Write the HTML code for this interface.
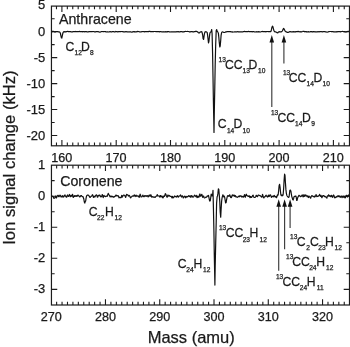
<!DOCTYPE html>
<html><head><meta charset="utf-8"><title>Ion signal change</title>
<style>html,body{margin:0;padding:0;background:#fff}body{width:350px;height:347px;overflow:hidden}</style>
</head><body>
<svg width="350" height="347" viewBox="0 0 350 347" style="display:block">
<rect width="350" height="347" fill="#fff"/>
<g stroke="#1c1c1c" stroke-width="1.2" fill="none" stroke-linecap="butt">
<rect x="51.45" y="6.1" width="298.05" height="139.70000000000002"/>
<rect x="51.45" y="165.2" width="298.05" height="139.8"/>
</g>
<path d="M56.47,6.1 v3.2 M56.47,145.8 v-3.2 M61.90,6.1 v5.8 M61.90,145.8 v-5.8 M67.33,6.1 v3.2 M67.33,145.8 v-3.2 M72.76,6.1 v3.2 M72.76,145.8 v-3.2 M78.19,6.1 v3.2 M78.19,145.8 v-3.2 M83.62,6.1 v3.2 M83.62,145.8 v-3.2 M89.05,6.1 v3.2 M89.05,145.8 v-3.2 M94.48,6.1 v3.2 M94.48,145.8 v-3.2 M99.91,6.1 v3.2 M99.91,145.8 v-3.2 M105.34,6.1 v3.2 M105.34,145.8 v-3.2 M110.77,6.1 v3.2 M110.77,145.8 v-3.2 M116.20,6.1 v5.8 M116.20,145.8 v-5.8 M121.63,6.1 v3.2 M121.63,145.8 v-3.2 M127.06,6.1 v3.2 M127.06,145.8 v-3.2 M132.49,6.1 v3.2 M132.49,145.8 v-3.2 M137.92,6.1 v3.2 M137.92,145.8 v-3.2 M143.35,6.1 v3.2 M143.35,145.8 v-3.2 M148.78,6.1 v3.2 M148.78,145.8 v-3.2 M154.21,6.1 v3.2 M154.21,145.8 v-3.2 M159.64,6.1 v3.2 M159.64,145.8 v-3.2 M165.07,6.1 v3.2 M165.07,145.8 v-3.2 M170.50,6.1 v5.8 M170.50,145.8 v-5.8 M175.93,6.1 v3.2 M175.93,145.8 v-3.2 M181.36,6.1 v3.2 M181.36,145.8 v-3.2 M186.79,6.1 v3.2 M186.79,145.8 v-3.2 M192.22,6.1 v3.2 M192.22,145.8 v-3.2 M197.65,6.1 v3.2 M197.65,145.8 v-3.2 M203.08,6.1 v3.2 M203.08,145.8 v-3.2 M208.51,6.1 v3.2 M208.51,145.8 v-3.2 M213.94,6.1 v3.2 M213.94,145.8 v-3.2 M219.37,6.1 v3.2 M219.37,145.8 v-3.2 M224.80,6.1 v5.8 M224.80,145.8 v-5.8 M230.23,6.1 v3.2 M230.23,145.8 v-3.2 M235.66,6.1 v3.2 M235.66,145.8 v-3.2 M241.09,6.1 v3.2 M241.09,145.8 v-3.2 M246.52,6.1 v3.2 M246.52,145.8 v-3.2 M251.95,6.1 v3.2 M251.95,145.8 v-3.2 M257.38,6.1 v3.2 M257.38,145.8 v-3.2 M262.81,6.1 v3.2 M262.81,145.8 v-3.2 M268.24,6.1 v3.2 M268.24,145.8 v-3.2 M273.67,6.1 v3.2 M273.67,145.8 v-3.2 M279.10,6.1 v5.8 M279.10,145.8 v-5.8 M284.53,6.1 v3.2 M284.53,145.8 v-3.2 M289.96,6.1 v3.2 M289.96,145.8 v-3.2 M295.39,6.1 v3.2 M295.39,145.8 v-3.2 M300.82,6.1 v3.2 M300.82,145.8 v-3.2 M306.25,6.1 v3.2 M306.25,145.8 v-3.2 M311.68,6.1 v3.2 M311.68,145.8 v-3.2 M317.11,6.1 v3.2 M317.11,145.8 v-3.2 M322.54,6.1 v3.2 M322.54,145.8 v-3.2 M327.97,6.1 v3.2 M327.97,145.8 v-3.2 M333.40,6.1 v5.8 M333.40,145.8 v-5.8 M338.83,6.1 v3.2 M338.83,145.8 v-3.2 M344.26,6.1 v3.2 M344.26,145.8 v-3.2 M56.63,165.2 v3.2 M56.63,305.0 v-3.2 M62.05,165.2 v3.2 M62.05,305.0 v-3.2 M67.48,165.2 v3.2 M67.48,305.0 v-3.2 M72.91,165.2 v3.2 M72.91,305.0 v-3.2 M78.34,165.2 v3.2 M78.34,305.0 v-3.2 M83.76,165.2 v3.2 M83.76,305.0 v-3.2 M89.19,165.2 v3.2 M89.19,305.0 v-3.2 M94.62,165.2 v3.2 M94.62,305.0 v-3.2 M100.04,165.2 v3.2 M100.04,305.0 v-3.2 M105.47,165.2 v5.8 M105.47,305.0 v-5.8 M110.90,165.2 v3.2 M110.90,305.0 v-3.2 M116.32,165.2 v3.2 M116.32,305.0 v-3.2 M121.75,165.2 v3.2 M121.75,305.0 v-3.2 M127.18,165.2 v3.2 M127.18,305.0 v-3.2 M132.61,165.2 v3.2 M132.61,305.0 v-3.2 M138.03,165.2 v3.2 M138.03,305.0 v-3.2 M143.46,165.2 v3.2 M143.46,305.0 v-3.2 M148.89,165.2 v3.2 M148.89,305.0 v-3.2 M154.31,165.2 v3.2 M154.31,305.0 v-3.2 M159.74,165.2 v5.8 M159.74,305.0 v-5.8 M165.17,165.2 v3.2 M165.17,305.0 v-3.2 M170.59,165.2 v3.2 M170.59,305.0 v-3.2 M176.02,165.2 v3.2 M176.02,305.0 v-3.2 M181.45,165.2 v3.2 M181.45,305.0 v-3.2 M186.88,165.2 v3.2 M186.88,305.0 v-3.2 M192.30,165.2 v3.2 M192.30,305.0 v-3.2 M197.73,165.2 v3.2 M197.73,305.0 v-3.2 M203.16,165.2 v3.2 M203.16,305.0 v-3.2 M208.58,165.2 v3.2 M208.58,305.0 v-3.2 M214.01,165.2 v5.8 M214.01,305.0 v-5.8 M219.44,165.2 v3.2 M219.44,305.0 v-3.2 M224.86,165.2 v3.2 M224.86,305.0 v-3.2 M230.29,165.2 v3.2 M230.29,305.0 v-3.2 M235.72,165.2 v3.2 M235.72,305.0 v-3.2 M241.14,165.2 v3.2 M241.14,305.0 v-3.2 M246.57,165.2 v3.2 M246.57,305.0 v-3.2 M252.00,165.2 v3.2 M252.00,305.0 v-3.2 M257.43,165.2 v3.2 M257.43,305.0 v-3.2 M262.85,165.2 v3.2 M262.85,305.0 v-3.2 M268.28,165.2 v5.8 M268.28,305.0 v-5.8 M273.71,165.2 v3.2 M273.71,305.0 v-3.2 M279.13,165.2 v3.2 M279.13,305.0 v-3.2 M284.56,165.2 v3.2 M284.56,305.0 v-3.2 M289.99,165.2 v3.2 M289.99,305.0 v-3.2 M295.41,165.2 v3.2 M295.41,305.0 v-3.2 M300.84,165.2 v3.2 M300.84,305.0 v-3.2 M306.27,165.2 v3.2 M306.27,305.0 v-3.2 M311.70,165.2 v3.2 M311.70,305.0 v-3.2 M317.12,165.2 v3.2 M317.12,305.0 v-3.2 M322.55,165.2 v5.8 M322.55,305.0 v-5.8 M327.98,165.2 v3.2 M327.98,305.0 v-3.2 M333.40,165.2 v3.2 M333.40,305.0 v-3.2 M338.83,165.2 v3.2 M338.83,305.0 v-3.2 M344.26,165.2 v3.2 M344.26,305.0 v-3.2 M51.45,18.72 h3.2 M349.5,18.72 h-3.2 M51.45,31.70 h5.8 M349.5,31.70 h-5.8 M51.45,44.67 h3.2 M349.5,44.67 h-3.2 M51.45,57.65 h5.8 M349.5,57.65 h-5.8 M51.45,70.62 h3.2 M349.5,70.62 h-3.2 M51.45,83.60 h5.8 M349.5,83.60 h-5.8 M51.45,96.58 h3.2 M349.5,96.58 h-3.2 M51.45,109.55 h5.8 M349.5,109.55 h-5.8 M51.45,122.53 h3.2 M349.5,122.53 h-3.2 M51.45,135.50 h5.8 M349.5,135.50 h-5.8 M51.45,180.67 h3.2 M349.5,180.67 h-3.2 M51.45,196.20 h5.8 M349.5,196.20 h-5.8 M51.45,211.72 h3.2 M349.5,211.72 h-3.2 M51.45,227.25 h5.8 M349.5,227.25 h-5.8 M51.45,242.77 h3.2 M349.5,242.77 h-3.2 M51.45,258.30 h5.8 M349.5,258.30 h-5.8 M51.45,273.82 h3.2 M349.5,273.82 h-3.2 M51.45,289.35 h5.8 M349.5,289.35 h-5.8" stroke="#1c1c1c" stroke-width="1.1" fill="none"/>
<path d="M51.5,31.6 L51.9,31.4 L52.4,31.6 L52.8,31.4 L53.2,31.5 L53.7,31.4 L54.1,31.7 L54.6,31.9 L55.0,31.9 L55.5,31.9 L56.0,31.6 L56.4,31.5 L56.9,31.5 L57.3,31.6 L57.8,31.6 L58.2,31.8 L58.6,31.8 L59.1,31.8 L59.5,32.0 L60.0,32.4 L60.5,33.6 L60.9,35.8 L61.4,37.8 L61.8,38.1 L62.2,36.1 L62.7,33.8 L63.1,32.5 L63.6,31.8 L64.0,31.7 L64.5,31.8 L65.0,31.7 L65.4,31.8 L65.8,31.9 L66.3,31.6 L66.8,31.6 L67.2,31.5 L67.7,31.3 L68.1,31.6 L68.5,31.6 L69.0,31.6 L69.5,31.7 L69.9,31.6 L70.3,31.6 L70.8,31.7 L71.2,31.9 L71.7,31.9 L72.2,32.0 L72.6,31.8 L73.0,31.7 L73.5,31.7 L74.0,31.7 L74.4,31.7 L74.8,31.7 L75.3,31.7 L75.8,31.4 L76.2,31.5 L76.7,31.6 L77.1,31.5 L77.5,31.7 L78.0,31.5 L78.5,31.6 L78.9,31.5 L79.3,31.4 L79.8,31.6 L80.2,31.6 L80.7,31.6 L81.2,31.6 L81.6,31.6 L82.0,31.5 L82.5,31.8 L83.0,31.7 L83.4,31.7 L83.8,31.7 L84.3,31.7 L84.8,31.8 L85.2,31.7 L85.7,31.6 L86.1,31.7 L86.5,31.7 L87.0,31.8 L87.5,32.0 L87.9,31.9 L88.3,31.8 L88.8,31.7 L89.2,31.5 L89.7,31.6 L90.2,31.6 L90.6,31.6 L91.0,31.6 L91.5,31.5 L92.0,31.7 L92.4,31.6 L92.8,31.5 L93.3,31.5 L93.8,31.6 L94.2,31.7 L94.7,31.9 L95.1,31.8 L95.5,31.8 L96.0,31.7 L96.5,31.7 L96.9,31.7 L97.3,31.7 L97.8,31.7 L98.2,31.7 L98.7,31.8 L99.2,32.0 L99.6,32.1 L100.0,32.2 L100.5,32.0 L101.0,31.7 L101.4,31.6 L101.8,31.5 L102.3,31.5 L102.8,31.6 L103.2,31.7 L103.7,31.6 L104.1,31.7 L104.5,31.5 L105.0,31.5 L105.5,31.6 L105.9,31.9 L106.3,31.9 L106.8,32.0 L107.2,31.9 L107.7,31.9 L108.2,32.0 L108.6,32.0 L109.0,31.9 L109.5,31.8 L110.0,31.6 L110.4,31.7 L110.8,31.8 L111.3,31.8 L111.8,31.8 L112.2,31.7 L112.7,31.6 L113.1,31.6 L113.5,31.6 L114.0,31.8 L114.5,31.8 L114.9,31.9 L115.3,31.7 L115.8,31.4 L116.2,31.5 L116.7,31.6 L117.2,31.7 L117.6,31.8 L118.0,31.8 L118.5,31.7 L119.0,31.6 L119.4,31.6 L119.8,31.6 L120.3,31.5 L120.8,31.6 L121.2,31.5 L121.7,31.5 L122.1,31.6 L122.5,31.6 L123.0,31.7 L123.5,31.8 L123.9,31.8 L124.3,31.9 L124.8,31.8 L125.2,31.8 L125.7,31.7 L126.2,31.6 L126.6,31.8 L127.0,31.8 L127.5,31.9 L128.0,31.9 L128.4,32.0 L128.8,31.9 L129.3,31.8 L129.8,31.9 L130.2,31.7 L130.7,31.9 L131.1,32.0 L131.6,32.1 L132.0,32.1 L132.4,31.9 L132.9,31.9 L133.3,31.7 L133.8,31.7 L134.2,31.8 L134.7,31.7 L135.2,31.8 L135.6,31.8 L136.1,31.9 L136.5,31.8 L136.9,31.6 L137.4,31.6 L137.8,31.4 L138.3,31.5 L138.8,31.6 L139.2,31.7 L139.7,31.9 L140.1,32.0 L140.6,31.9 L141.0,31.9 L141.4,31.8 L141.9,31.6 L142.3,31.6 L142.8,31.5 L143.2,31.5 L143.7,31.7 L144.2,31.7 L144.6,31.8 L145.1,31.7 L145.5,31.7 L145.9,31.6 L146.4,31.6 L146.8,31.7 L147.3,31.6 L147.8,31.7 L148.2,31.6 L148.7,31.6 L149.1,31.4 L149.6,31.4 L150.0,31.4 L150.4,31.5 L150.9,31.8 L151.3,31.6 L151.8,31.7 L152.2,31.6 L152.7,31.5 L153.2,31.7 L153.6,31.6 L154.1,31.5 L154.5,31.5 L154.9,31.5 L155.4,31.5 L155.8,31.6 L156.3,31.6 L156.8,31.7 L157.2,31.6 L157.7,31.7 L158.1,31.6 L158.6,31.5 L159.0,31.7 L159.4,31.8 L159.9,31.7 L160.3,31.7 L160.8,31.6 L161.2,31.7 L161.7,31.8 L162.2,31.9 L162.6,31.9 L163.1,31.7 L163.5,31.9 L163.9,31.9 L164.4,31.9 L164.8,31.9 L165.3,31.8 L165.8,31.7 L166.2,31.8 L166.7,31.8 L167.1,31.7 L167.6,31.8 L168.0,31.6 L168.4,31.6 L168.9,31.7 L169.3,31.8 L169.8,32.0 L170.2,32.0 L170.7,31.9 L171.2,31.9 L171.6,31.9 L172.1,31.8 L172.5,31.9 L172.9,31.9 L173.4,31.9 L173.8,31.9 L174.3,31.9 L174.8,31.9 L175.2,31.9 L175.7,31.9 L176.1,31.8 L176.6,31.8 L177.0,31.6 L177.4,31.7 L177.9,31.8 L178.3,31.6 L178.8,31.9 L179.2,31.9 L179.7,31.8 L180.2,31.8 L180.6,31.6 L181.1,31.5 L181.5,31.7 L181.9,31.6 L182.4,31.9 L182.8,31.9 L183.3,31.8 L183.8,31.9 L184.2,31.6 L184.7,31.6 L185.1,31.5 L185.6,31.4 L186.0,31.5 L186.4,31.5 L186.9,31.5 L187.3,31.4 L187.8,31.5 L188.2,31.5 L188.7,31.5 L189.2,31.8 L189.6,31.9 L190.1,31.9 L190.5,31.8 L190.9,31.6 L191.4,31.5 L191.8,31.6 L192.3,31.7 L192.8,31.8 L193.2,31.8 L193.7,31.8 L194.1,31.7 L194.6,31.6 L195.0,31.6 L195.4,31.4 L195.9,31.4 L196.3,31.4 L196.8,31.4 L197.2,31.7 L197.7,31.9 L198.2,32.5 L198.6,32.9 L199.1,32.9 L199.5,32.9 L199.9,32.3 L200.4,31.9 L200.8,31.9 L201.3,31.8 L201.8,31.7 L202.2,32.9 L202.7,35.3 L203.1,38.6 L203.6,39.4 L204.0,36.6 L204.4,33.8 L204.9,32.1 L205.3,31.7 L205.8,31.9 L206.2,31.8 L206.7,32.0 L207.2,32.7 L207.6,35.1 L208.1,39.5 L208.5,42.9 L208.9,41.5 L209.4,37.0 L209.8,33.6 L210.3,32.2 L210.8,31.9 L211.2,31.4 L211.7,29.5 L212.1,33.7 L212.6,54.1 L213.0,76.7 L213.4,100.8 L213.9,126.6 L214.0,132.4 L214.3,112.0 L214.8,87.0 L214.9,81.8 L215.2,64.2 L215.7,44.2 L216.2,30.7 L216.6,29.6 L217.1,30.8 L217.5,31.7 L217.9,32.1 L218.4,33.4 L218.8,37.0 L219.3,42.7 L219.8,47.0 L220.2,46.0 L220.7,40.5 L221.1,35.4 L221.6,32.7 L222.0,32.0 L222.4,31.9 L222.9,32.0 L223.3,32.2 L223.8,32.4 L224.2,32.5 L224.7,32.4 L225.2,32.2 L225.6,31.9 L226.1,31.9 L226.5,31.8 L226.9,31.7 L227.4,31.6 L227.8,31.7 L228.3,31.7 L228.8,31.7 L229.2,31.7 L229.7,31.6 L230.1,31.7 L230.6,31.7 L231.0,31.8 L231.4,31.9 L231.9,31.9 L232.3,31.9 L232.8,32.1 L233.2,32.0 L233.7,32.0 L234.2,32.0 L234.6,31.8 L235.1,31.9 L235.5,31.8 L235.9,31.9 L236.4,31.8 L236.8,31.8 L237.3,31.8 L237.8,31.6 L238.2,31.8 L238.7,31.8 L239.1,31.8 L239.6,31.8 L240.0,31.8 L240.4,31.8 L240.9,31.8 L241.3,31.9 L241.8,31.9 L242.2,31.8 L242.7,31.8 L243.2,31.7 L243.6,31.6 L244.1,31.6 L244.5,31.4 L244.9,31.5 L245.4,31.6 L245.8,31.6 L246.3,31.6 L246.8,31.7 L247.2,31.6 L247.7,31.6 L248.1,31.5 L248.6,31.4 L249.0,31.6 L249.4,31.5 L249.9,31.6 L250.3,31.6 L250.8,31.6 L251.2,31.6 L251.7,31.7 L252.2,31.8 L252.6,31.7 L253.1,31.7 L253.5,31.6 L253.9,31.7 L254.4,31.8 L254.8,31.9 L255.3,32.0 L255.8,31.9 L256.2,31.9 L256.6,31.7 L257.1,31.8 L257.6,31.9 L258.0,31.7 L258.4,31.8 L258.9,31.7 L259.4,31.8 L259.8,32.0 L260.2,32.0 L260.7,32.0 L261.1,31.7 L261.6,31.5 L262.1,31.5 L262.5,31.4 L262.9,31.7 L263.4,31.6 L263.9,31.5 L264.3,31.6 L264.8,31.5 L265.2,31.7 L265.6,31.8 L266.1,31.6 L266.6,31.6 L267.0,31.6 L267.4,31.5 L267.9,31.5 L268.4,31.6 L268.8,31.6 L269.2,31.6 L269.7,31.7 L270.1,31.7 L270.6,31.6 L271.1,31.0 L271.5,29.4 L271.9,27.4 L272.4,26.1 L272.9,26.6 L273.3,28.3 L273.8,30.2 L274.2,31.2 L274.6,31.7 L275.1,31.9 L275.6,31.9 L276.0,32.0 L276.4,32.2 L276.9,32.6 L277.4,32.8 L277.8,32.8 L278.2,32.3 L278.7,31.9 L279.1,31.8 L279.6,31.7 L280.1,31.9 L280.5,31.8 L280.9,31.8 L281.4,31.8 L281.9,31.5 L282.3,31.0 L282.8,30.1 L283.2,29.0 L283.6,28.4 L284.1,28.9 L284.6,29.9 L285.0,30.8 L285.4,31.4 L285.9,31.7 L286.4,31.9 L286.8,32.1 L287.2,32.3 L287.7,32.4 L288.1,32.4 L288.6,32.2 L289.1,31.9 L289.5,31.8 L289.9,31.6 L290.4,31.7 L290.9,31.8 L291.3,31.8 L291.8,31.9 L292.2,31.9 L292.6,31.8 L293.1,31.7 L293.6,31.8 L294.0,31.7 L294.4,31.8 L294.9,31.9 L295.4,31.7 L295.8,31.8 L296.2,31.7 L296.7,31.7 L297.1,31.7 L297.6,31.6 L298.1,31.4 L298.5,31.6 L298.9,31.7 L299.4,31.7 L299.9,31.9 L300.3,31.8 L300.8,31.7 L301.2,31.8 L301.6,31.8 L302.1,31.7 L302.6,31.5 L303.0,31.3 L303.4,31.3 L303.9,31.4 L304.4,31.6 L304.8,31.8 L305.2,31.6 L305.7,31.7 L306.1,31.8 L306.6,31.7 L307.1,31.8 L307.5,31.8 L307.9,31.8 L308.4,31.7 L308.9,31.8 L309.3,32.0 L309.8,31.9 L310.2,31.8 L310.6,31.6 L311.1,31.5 L311.6,31.6 L312.0,31.9 L312.4,31.8 L312.9,31.7 L313.4,31.8 L313.8,31.6 L314.2,31.7 L314.7,31.8 L315.1,31.7 L315.6,31.9 L316.1,31.9 L316.5,31.9 L316.9,31.8 L317.4,31.8 L317.9,31.7 L318.3,31.7 L318.8,31.8 L319.2,31.8 L319.6,31.7 L320.1,31.7 L320.6,31.5 L321.0,31.6 L321.4,31.6 L321.9,31.8 L322.4,31.8 L322.8,31.7 L323.2,31.7 L323.7,31.6 L324.1,31.7 L324.6,31.5 L325.1,31.7 L325.5,31.8 L325.9,31.8 L326.4,32.0 L326.9,32.1 L327.3,32.1 L327.8,32.0 L328.2,31.9 L328.6,31.7 L329.1,31.6 L329.6,31.5 L330.0,31.5 L330.4,31.5 L330.9,31.5 L331.4,31.7 L331.8,31.7 L332.2,31.7 L332.7,31.7 L333.1,31.7 L333.6,31.8 L334.1,31.8 L334.5,31.9 L334.9,31.9 L335.4,31.8 L335.9,31.9 L336.3,31.7 L336.8,31.8 L337.2,31.8 L337.6,31.7 L338.1,31.7 L338.6,31.5 L339.0,31.7 L339.4,31.6 L339.9,31.7 L340.4,31.8 L340.8,31.7 L341.2,31.6 L341.7,31.5 L342.1,31.5 L342.6,31.4 L343.1,31.5 L343.5,31.6 L343.9,31.6 L344.4,31.6 L344.9,31.8 L345.3,31.9 L345.8,32.0 L346.2,32.0 L346.6,31.8 L347.1,31.6 L347.6,31.5 L348.0,31.3 L348.4,31.3 L348.9,31.5 L349.4,31.7" stroke="#111" stroke-width="1.2" fill="none" stroke-linejoin="round"/>
<path d="M51.5,196.0 L51.9,196.0 L52.4,196.2 L52.8,196.6 L53.2,196.6 L53.7,198.2 L54.1,198.2 L54.6,198.1 L55.0,197.6 L55.5,196.1 L56.0,196.8 L56.4,198.0 L56.9,196.9 L57.3,195.9 L57.8,195.4 L58.2,195.3 L58.6,196.6 L59.1,196.7 L59.5,195.8 L60.0,195.1 L60.5,195.6 L60.9,196.9 L61.4,197.0 L61.8,196.7 L62.2,195.6 L62.7,196.5 L63.1,197.2 L63.6,196.1 L64.0,196.5 L64.5,195.4 L65.0,194.9 L65.4,196.1 L65.8,196.3 L66.3,197.2 L66.8,197.2 L67.2,195.4 L67.7,195.0 L68.1,196.1 L68.5,196.4 L69.0,195.5 L69.5,194.5 L69.9,195.6 L70.3,196.7 L70.8,196.4 L71.2,195.2 L71.7,196.2 L72.2,195.6 L72.6,194.3 L73.0,197.2 L73.5,197.3 L74.0,196.2 L74.4,195.7 L74.8,196.3 L75.3,196.2 L75.8,195.6 L76.2,196.4 L76.7,195.7 L77.1,196.1 L77.5,195.9 L78.0,195.0 L78.5,195.8 L78.9,195.9 L79.3,196.2 L79.8,197.0 L80.2,196.6 L80.7,195.7 L81.2,195.6 L81.6,195.7 L82.0,196.5 L82.5,196.6 L83.0,196.7 L83.4,197.8 L83.8,199.0 L84.3,201.9 L84.8,203.1 L85.2,201.7 L85.7,200.9 L86.1,198.2 L86.5,196.1 L87.0,195.4 L87.5,195.0 L87.9,195.1 L88.3,195.1 L88.8,195.7 L89.2,196.0 L89.7,197.2 L90.2,197.3 L90.6,196.7 L91.0,196.5 L91.5,196.0 L92.0,195.6 L92.4,194.7 L92.8,195.2 L93.3,197.2 L93.8,197.4 L94.2,196.2 L94.7,196.8 L95.1,196.9 L95.5,195.6 L96.0,195.1 L96.5,194.9 L96.9,195.5 L97.3,197.2 L97.8,197.2 L98.2,195.5 L98.7,195.3 L99.2,195.7 L99.6,195.1 L100.0,195.3 L100.5,196.7 L101.0,196.8 L101.4,196.7 L101.8,195.8 L102.3,194.5 L102.8,196.0 L103.2,197.6 L103.7,195.9 L104.1,195.4 L104.5,196.3 L105.0,196.5 L105.5,196.6 L105.9,196.0 L106.3,196.0 L106.8,196.4 L107.2,196.3 L107.7,195.1 L108.2,193.4 L108.6,194.0 L109.0,194.8 L109.5,195.4 L110.0,196.8 L110.4,196.8 L110.8,196.1 L111.3,196.0 L111.8,196.9 L112.2,196.5 L112.7,196.3 L113.1,197.1 L113.5,196.8 L114.0,197.2 L114.5,196.6 L114.9,196.3 L115.3,196.2 L115.8,195.2 L116.2,195.1 L116.7,195.8 L117.2,195.9 L117.6,195.7 L118.0,195.6 L118.5,196.2 L119.0,197.9 L119.4,197.4 L119.8,197.3 L120.3,197.5 L120.8,197.8 L121.2,197.5 L121.7,195.4 L122.1,196.2 L122.5,197.0 L123.0,195.5 L123.5,195.2 L123.9,194.9 L124.3,195.2 L124.8,195.5 L125.2,196.4 L125.7,197.4 L126.2,195.6 L126.6,194.4 L127.0,195.0 L127.5,194.8 L128.0,195.0 L128.4,196.1 L128.8,195.7 L129.3,195.4 L129.8,196.2 L130.2,197.3 L130.7,197.9 L131.1,197.1 L131.6,196.7 L132.0,196.3 L132.4,196.0 L132.9,195.9 L133.3,196.1 L133.8,195.9 L134.2,194.9 L134.7,195.6 L135.2,196.5 L135.6,195.7 L136.1,195.1 L136.5,196.0 L136.9,196.4 L137.4,195.8 L137.8,195.8 L138.3,196.1 L138.8,196.9 L139.2,197.3 L139.7,195.8 L140.1,194.2 L140.6,195.0 L141.0,196.9 L141.4,197.0 L141.9,196.8 L142.3,196.4 L142.8,195.1 L143.2,195.8 L143.7,196.7 L144.2,196.7 L144.6,195.8 L145.1,195.5 L145.5,195.9 L145.9,196.3 L146.4,196.3 L146.8,195.5 L147.3,195.5 L147.8,196.6 L148.2,196.9 L148.7,195.8 L149.1,195.2 L149.6,195.0 L150.0,196.4 L150.4,196.0 L150.9,194.7 L151.3,196.1 L151.8,197.2 L152.2,196.8 L152.7,196.6 L153.2,197.1 L153.6,197.2 L154.1,196.8 L154.5,197.2 L154.9,197.3 L155.4,197.2 L155.8,196.5 L156.3,196.1 L156.8,196.0 L157.2,194.6 L157.7,195.7 L158.1,196.0 L158.6,196.0 L159.0,195.9 L159.4,196.5 L159.9,197.2 L160.3,195.6 L160.8,195.7 L161.2,196.9 L161.7,196.3 L162.2,196.1 L162.6,197.7 L163.1,197.9 L163.5,196.7 L163.9,195.9 L164.4,196.3 L164.8,195.7 L165.3,193.6 L165.8,194.1 L166.2,195.3 L166.7,196.6 L167.1,197.3 L167.6,195.8 L168.0,195.0 L168.4,195.9 L168.9,196.1 L169.3,195.5 L169.8,195.9 L170.2,196.3 L170.7,196.4 L171.2,196.4 L171.6,197.1 L172.1,198.0 L172.5,196.3 L172.9,196.8 L173.4,197.8 L173.8,197.1 L174.3,196.6 L174.8,196.0 L175.2,196.6 L175.7,196.5 L176.1,196.8 L176.6,197.1 L177.0,196.1 L177.4,195.6 L177.9,196.6 L178.3,197.1 L178.8,196.5 L179.2,195.9 L179.7,196.0 L180.2,195.6 L180.6,194.9 L181.1,196.4 L181.5,197.0 L181.9,196.1 L182.4,195.9 L182.8,196.6 L183.3,198.0 L183.8,197.2 L184.2,196.5 L184.7,196.1 L185.1,196.9 L185.6,197.8 L186.0,196.3 L186.4,196.5 L186.9,197.2 L187.3,196.7 L187.8,196.7 L188.2,196.1 L188.7,195.6 L189.2,196.3 L189.6,196.6 L190.1,195.7 L190.5,196.9 L190.9,197.3 L191.4,195.8 L191.8,195.6 L192.3,196.3 L192.8,197.2 L193.2,197.0 L193.7,196.9 L194.1,195.9 L194.6,195.2 L195.0,195.8 L195.4,196.0 L195.9,196.6 L196.3,195.4 L196.8,196.9 L197.2,197.6 L197.7,196.0 L198.2,196.9 L198.6,197.2 L199.1,196.9 L199.5,194.7 L199.9,194.0 L200.4,196.1 L200.8,196.2 L201.3,195.1 L201.8,194.3 L202.2,195.6 L202.7,197.3 L203.1,196.1 L203.6,196.0 L204.0,197.3 L204.4,197.8 L204.9,197.8 L205.3,197.5 L205.8,197.1 L206.2,197.3 L206.7,197.0 L207.2,196.0 L207.6,196.2 L208.1,196.1 L208.5,195.4 L208.9,197.4 L209.4,200.0 L209.8,201.1 L210.3,200.5 L210.8,197.1 L211.2,194.2 L211.7,194.9 L212.1,196.0 L212.6,195.0 L213.0,190.3 L213.4,207.0 L213.9,230.8 L214.0,236.6 L214.3,255.3 L214.8,280.3 L214.9,285.1 L215.2,265.7 L215.7,243.2 L216.2,222.2 L216.6,203.1 L217.1,196.7 L217.5,196.0 L217.9,193.4 L218.4,188.9 L218.8,189.4 L219.3,195.3 L219.8,201.9 L220.2,211.9 L220.7,217.2 L221.1,209.7 L221.6,201.4 L222.0,198.4 L222.4,196.4 L222.9,194.8 L223.3,195.8 L223.8,197.0 L224.2,196.0 L224.7,197.4 L225.2,200.5 L225.6,202.8 L226.1,202.7 L226.5,200.2 L226.9,198.1 L227.4,196.1 L227.8,195.6 L228.3,195.7 L228.8,196.3 L229.2,196.1 L229.7,194.8 L230.1,195.7 L230.6,197.3 L231.0,197.7 L231.4,197.7 L231.9,196.0 L232.3,194.9 L232.8,195.5 L233.2,195.9 L233.7,195.0 L234.2,195.0 L234.6,196.4 L235.1,195.8 L235.5,195.7 L235.9,197.0 L236.4,196.9 L236.8,196.8 L237.3,197.4 L237.8,197.0 L238.2,196.7 L238.7,196.2 L239.1,196.7 L239.6,196.7 L240.0,195.5 L240.4,196.2 L240.9,196.2 L241.3,196.0 L241.8,197.1 L242.2,196.9 L242.7,196.3 L243.2,196.8 L243.6,197.2 L244.1,195.8 L244.5,194.6 L244.9,196.2 L245.4,197.2 L245.8,195.2 L246.3,194.2 L246.8,195.5 L247.2,195.7 L247.7,195.9 L248.1,196.5 L248.6,196.5 L249.0,195.8 L249.4,195.9 L249.9,197.7 L250.3,196.9 L250.8,196.5 L251.2,197.5 L251.7,197.2 L252.2,196.6 L252.6,195.5 L253.1,195.1 L253.5,196.2 L253.9,197.2 L254.4,197.5 L254.8,197.5 L255.3,197.3 L255.8,196.5 L256.2,195.3 L256.6,195.6 L257.1,196.6 L257.6,196.6 L258.0,195.4 L258.4,195.1 L258.9,195.1 L259.4,195.5 L259.8,195.7 L260.2,195.5 L260.7,196.3 L261.1,196.5 L261.6,197.1 L262.1,196.4 L262.5,194.3 L262.9,195.5 L263.4,197.6 L263.9,197.9 L264.3,197.2 L264.8,196.7 L265.2,196.6 L265.6,195.6 L266.1,195.2 L266.6,196.2 L267.0,196.2 L267.4,197.0 L267.9,196.4 L268.4,195.1 L268.8,196.6 L269.2,196.5 L269.7,195.2 L270.1,194.8 L270.6,195.0 L271.1,196.7 L271.5,197.3 L271.9,196.8 L272.4,196.2 L272.9,196.4 L273.3,196.8 L273.8,195.8 L274.2,195.4 L274.6,196.1 L275.1,197.0 L275.6,196.9 L276.0,196.5 L276.4,197.7 L276.9,196.9 L277.4,194.9 L277.8,195.4 L278.2,194.5 L278.7,190.1 L279.1,185.7 L279.6,184.3 L280.1,187.5 L280.5,191.9 L280.9,195.0 L281.4,195.7 L281.9,195.0 L282.3,195.8 L282.8,195.5 L283.2,194.0 L283.6,189.1 L284.1,180.2 L284.6,174.1 L285.0,175.5 L285.4,182.2 L285.9,189.4 L286.4,193.7 L286.8,195.2 L287.2,196.0 L287.7,196.8 L288.1,197.1 L288.6,197.4 L289.1,196.8 L289.5,193.2 L289.9,190.2 L290.4,190.0 L290.9,191.2 L291.3,193.8 L291.8,196.6 L292.2,197.7 L292.6,199.3 L293.1,200.0 L293.6,198.5 L294.0,196.9 L294.4,196.3 L294.9,196.3 L295.4,196.5 L295.8,196.0 L296.2,197.0 L296.7,200.4 L297.1,200.4 L297.6,197.9 L298.1,196.8 L298.5,196.1 L298.9,195.3 L299.4,195.6 L299.9,196.0 L300.3,196.7 L300.8,196.3 L301.2,196.3 L301.6,195.9 L302.1,194.9 L302.6,195.8 L303.0,196.9 L303.4,196.6 L303.9,194.7 L304.4,195.3 L304.8,196.5 L305.2,195.6 L305.7,195.0 L306.1,195.3 L306.6,195.9 L307.1,196.7 L307.5,195.8 L307.9,196.7 L308.4,197.5 L308.9,196.0 L309.3,196.4 L309.8,196.7 L310.2,197.7 L310.6,198.2 L311.1,196.7 L311.6,195.8 L312.0,195.7 L312.4,195.8 L312.9,196.4 L313.4,196.3 L313.8,196.8 L314.2,197.1 L314.7,196.1 L315.1,196.7 L315.6,195.7 L316.1,194.6 L316.5,196.1 L316.9,196.6 L317.4,196.2 L317.9,196.5 L318.3,196.1 L318.8,195.8 L319.2,195.4 L319.6,194.4 L320.1,195.9 L320.6,196.4 L321.0,195.3 L321.4,196.6 L321.9,197.7 L322.4,196.6 L322.8,195.6 L323.2,195.9 L323.7,195.6 L324.1,196.0 L324.6,196.6 L325.1,196.4 L325.5,196.8 L325.9,197.1 L326.4,197.7 L326.9,198.2 L327.3,196.1 L327.8,195.8 L328.2,196.1 L328.6,194.8 L329.1,195.8 L329.6,196.2 L330.0,195.7 L330.4,196.7 L330.9,196.5 L331.4,195.3 L331.8,195.9 L332.2,197.1 L332.7,197.3 L333.1,195.7 L333.6,195.0 L334.1,195.8 L334.5,197.3 L334.9,197.9 L335.4,197.2 L335.9,197.4 L336.3,196.8 L336.8,196.3 L337.2,196.8 L337.6,196.0 L338.1,195.7 L338.6,196.6 L339.0,195.9 L339.4,196.1 L339.9,197.1 L340.4,197.3 L340.8,196.4 L341.2,195.9 L341.7,197.1 L342.1,197.5 L342.6,196.2 L343.1,195.9 L343.5,197.2 L343.9,197.0 L344.4,196.4 L344.9,197.9 L345.3,197.7 L345.8,196.2 L346.2,195.6 L346.6,195.3 L347.1,196.7 L347.6,197.0 L348.0,195.5 L348.4,195.0 L348.9,195.7 L349.4,196.7" stroke="#111" stroke-width="1.2" fill="none" stroke-linejoin="round"/>
<line x1="271.8" y1="107" x2="271.8" y2="40.1" stroke="#3c3c3c" stroke-width="1.15"/><path d="M271.8,35.1 l2.3,7.4 h-4.6 z" fill="#111"/>
<line x1="283.9" y1="63.6" x2="283.9" y2="40.1" stroke="#3c3c3c" stroke-width="1.15"/><path d="M283.9,35.1 l2.3,7.4 h-4.6 z" fill="#111"/>
<line x1="278.7" y1="270.7" x2="278.7" y2="204.3" stroke="#3c3c3c" stroke-width="1.15"/><path d="M278.7,199.3 l2.3,7.4 h-4.6 z" fill="#111"/>
<line x1="284.6" y1="249.3" x2="284.6" y2="204.3" stroke="#3c3c3c" stroke-width="1.15"/><path d="M284.6,199.3 l2.3,7.4 h-4.6 z" fill="#111"/>
<line x1="290.1" y1="227.9" x2="290.1" y2="204.3" stroke="#3c3c3c" stroke-width="1.15"/><path d="M290.1,199.3 l2.3,7.4 h-4.6 z" fill="#111"/>
<g font-family="Liberation Sans, Arial, sans-serif" fill="#1a1a1a" stroke="#1a1a1a" stroke-width="0.25" font-size="12.6">
<text x="61.8" y="161.6" text-anchor="middle">160</text>
<text x="116.1" y="161.6" text-anchor="middle">170</text>
<text x="170.4" y="161.6" text-anchor="middle">180</text>
<text x="224.7" y="161.6" text-anchor="middle">190</text>
<text x="279.0" y="161.6" text-anchor="middle">200</text>
<text x="333.3" y="161.6" text-anchor="middle">210</text>
<text x="51.2" y="321.4" text-anchor="middle">270</text>
<text x="105.5" y="321.4" text-anchor="middle">280</text>
<text x="159.7" y="321.4" text-anchor="middle">290</text>
<text x="214.0" y="321.4" text-anchor="middle">300</text>
<text x="268.3" y="321.4" text-anchor="middle">310</text>
<text x="322.5" y="321.4" text-anchor="middle">320</text>
<text x="45.3" y="8.9" text-anchor="end" font-size="13">5</text>
<text x="45.3" y="35.7" text-anchor="end" font-size="13">0</text>
<text x="45.3" y="61.7" text-anchor="end" font-size="13">-5</text>
<text x="45.3" y="87.6" text-anchor="end" font-size="13">-10</text>
<text x="45.3" y="113.6" text-anchor="end" font-size="13">-15</text>
<text x="45.3" y="139.5" text-anchor="end" font-size="13">-20</text>
<text x="45.3" y="168.6" text-anchor="end" font-size="13">1</text>
<text x="45.3" y="199.7" text-anchor="end" font-size="13">0</text>
<text x="45.3" y="230.8" text-anchor="end" font-size="13">-1</text>
<text x="45.3" y="261.8" text-anchor="end" font-size="13">-2</text>
<text x="45.3" y="292.9" text-anchor="end" font-size="13">-3</text>
<text x="59" y="24.2" font-size="14.2">Anthracene</text>
<text x="60.2" y="185.9" font-size="14.2">Coronene</text>
<text transform="translate(65.38,50.60) scale(0.96,1)" font-size="12.7">C</text><text transform="translate(74.50,54.80) scale(1,1)" font-size="6.6">12</text><text transform="translate(81.00,50.60) scale(0.96,1)" font-size="12.7">D</text><text transform="translate(90.12,54.80) scale(1,1)" font-size="6.6">8</text>
<text transform="translate(217.78,128.30) scale(0.96,1)" font-size="12.7">C</text><text transform="translate(226.90,132.50) scale(1,1)" font-size="6.6">14</text><text transform="translate(233.40,128.30) scale(0.96,1)" font-size="12.7">D</text><text transform="translate(242.50,132.50) scale(1,1)" font-size="6.6">10</text>
<text transform="translate(218.50,62.00) scale(1,1)" font-size="6.6">13</text><text transform="translate(224.98,69.00) scale(0.96,1)" font-size="12.7">CC</text><text transform="translate(242.50,73.20) scale(1,1)" font-size="6.6">13</text><text transform="translate(248.40,69.00) scale(0.96,1)" font-size="12.7">D</text><text transform="translate(258.10,73.20) scale(1,1)" font-size="6.6">10</text>
<text transform="translate(282.90,75.00) scale(1,1)" font-size="6.6">13</text><text transform="translate(288.78,82.00) scale(0.96,1)" font-size="12.7">CC</text><text transform="translate(306.50,86.20) scale(1,1)" font-size="6.6">14</text><text transform="translate(313.40,82.00) scale(0.96,1)" font-size="12.7">D</text><text transform="translate(322.50,86.20) scale(1,1)" font-size="6.6">10</text>
<text transform="translate(270.90,115.00) scale(1,1)" font-size="6.6">13</text><text transform="translate(277.38,122.00) scale(0.96,1)" font-size="12.7">CC</text><text transform="translate(295.10,126.20) scale(1,1)" font-size="6.6">14</text><text transform="translate(302.00,122.00) scale(0.96,1)" font-size="12.7">D</text><text transform="translate(311.29,126.20) scale(1,1)" font-size="6.6">9</text>
<text transform="translate(88.78,215.60) scale(0.96,1)" font-size="12.7">C</text><text transform="translate(97.07,219.80) scale(1,1)" font-size="6.6">22</text><text transform="translate(105.00,215.60) scale(0.96,1)" font-size="12.7">H</text><text transform="translate(114.50,219.80) scale(1,1)" font-size="6.6">12</text>
<text transform="translate(177.78,267.80) scale(0.96,1)" font-size="12.7">C</text><text transform="translate(186.27,272.00) scale(1,1)" font-size="6.6">24</text><text transform="translate(193.60,267.80) scale(0.96,1)" font-size="12.7">H</text><text transform="translate(203.10,272.00) scale(1,1)" font-size="6.6">12</text>
<text transform="translate(218.90,230.40) scale(1,1)" font-size="6.6">13</text><text transform="translate(225.78,237.40) scale(0.96,1)" font-size="12.7">CC</text><text transform="translate(242.67,241.60) scale(1,1)" font-size="6.6">23</text><text transform="translate(249.60,237.40) scale(0.96,1)" font-size="12.7">H</text><text transform="translate(259.50,241.60) scale(1,1)" font-size="6.6">12</text>
<text transform="translate(290.10,239.00) scale(1,1)" font-size="6.6">13</text><text transform="translate(296.78,246.00) scale(0.96,1)" font-size="12.7">C</text><text transform="translate(306.27,250.20) scale(1,1)" font-size="6.6">2</text><text transform="translate(309.88,246.00) scale(0.96,1)" font-size="12.7">C</text><text transform="translate(318.37,250.20) scale(1,1)" font-size="6.6">23</text><text transform="translate(325.00,246.00) scale(0.96,1)" font-size="12.7">H</text><text transform="translate(334.60,250.20) scale(1,1)" font-size="6.6">12</text>
<text transform="translate(286.00,259.00) scale(1,1)" font-size="6.6">13</text><text transform="translate(292.28,266.00) scale(0.96,1)" font-size="12.7">CC</text><text transform="translate(309.17,270.20) scale(1,1)" font-size="6.6">24</text><text transform="translate(316.30,266.00) scale(0.96,1)" font-size="12.7">H</text><text transform="translate(326.00,270.20) scale(1,1)" font-size="6.6">12</text>
<text transform="translate(275.90,278.50) scale(1,1)" font-size="6.6">13</text><text transform="translate(282.38,285.50) scale(0.96,1)" font-size="12.7">CC</text><text transform="translate(299.87,289.70) scale(1,1)" font-size="6.6">24</text><text transform="translate(306.70,285.50) scale(0.96,1)" font-size="12.7">H</text><text transform="translate(316.80,289.70) scale(1,1)" font-size="6.6">11</text>
<text x="191.2" y="343.4" font-size="16.5" text-anchor="middle">Mass (amu)</text>
<text transform="translate(14.9,157.6) rotate(-90)" font-size="16.6" text-anchor="middle">Ion signal change (kHz)</text>
</g>
</svg>
</body></html>
